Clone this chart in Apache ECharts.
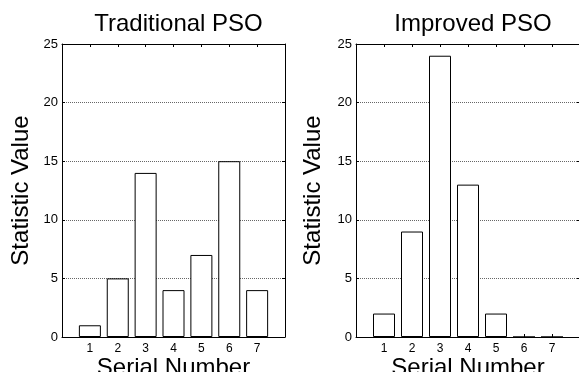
<!DOCTYPE html>
<html>
<head>
<meta charset="utf-8">
<script src="https://cdn.jsdelivr.net/npm/echarts@6/dist/echarts.min.js"></script>
<style>
  html, body { margin: 0; padding: 0; background: #fff; }
  #chart { width: 579px; height: 372px; }
</style>
</head>
<body>
<div id="chart"></div>
<script>
const serial = [1, 2, 3, 4, 5, 6, 7]
const traditional = [1, 5, 14, 4, 7, 15, 4]
const improved = [2, 9, 24, 13, 2, 0, 0]
const titles = ['Traditional PSO', 'Improved PSO']
const xName = 'Serial Number'
const yName = 'Statistic Value'

const font = 'Arial, "Liberation Sans", Helvetica, sans-serif'
const black = '#000'

const grids = [
  { left: 62, top: 44, width: 223, height: 293, outerBoundsMode: 'none', containLabel: false },
  { left: 356, top: 44, width: 224, height: 293, outerBoundsMode: 'none', containLabel: false }
]
const yGaps = [29, 31]

function xAxes (gi) {
  const base = {
    gridIndex: gi,
    type: 'value',
    min: 0,
    max: 8,
    interval: 1,
    splitLine: { show: false },
    axisLine: { show: true, onZero: false, lineStyle: { color: black, width: 1 } },
    axisTick: { show: true, inside: true, length: 3, lineStyle: { color: black } }
  }
  return [
    Object.assign({}, base, {
      position: 'bottom',
      name: xName,
      nameLocation: 'middle',
      nameGap: 19,
      nameMoveOverlap: false,
      nameTextStyle: { color: black, fontSize: 24, fontFamily: font },
      axisLabel: {
        margin: 6,
        color: black,
        fontSize: 12,
        fontFamily: font,
        formatter: v => (v >= 1 && v <= 7 ? String(v) : '')
      }
    }),
    Object.assign({}, base, {
      position: 'top',
      axisLabel: { show: false }
    })
  ]
}

function yAxes (gi) {
  const base = {
    gridIndex: gi,
    type: 'value',
    min: 0,
    max: 25,
    interval: 5,
    axisLine: { show: true, onZero: false, lineStyle: { color: black, width: 1 } },
    axisTick: { show: true, inside: true, length: 3, lineStyle: { color: black } }
  }
  return [
    Object.assign({}, base, {
      position: 'left',
      name: yName,
      nameLocation: 'middle',
      nameGap: yGaps[gi],
      nameMoveOverlap: false,
      nameTextStyle: { color: black, fontSize: 24, fontFamily: font },
      axisLabel: { margin: 4, color: black, fontSize: 13, fontFamily: font },
      splitLine: { show: true, lineStyle: { color: '#666', type: 'dotted', width: 1 } }
    }),
    Object.assign({}, base, {
      position: 'right',
      axisLabel: { show: false },
      splitLine: { show: false }
    })
  ]
}

function barSeries (gi, values) {
  return {
    type: 'bar',
    xAxisIndex: gi * 2,
    yAxisIndex: gi * 2,
    barWidth: 22,
    itemStyle: { color: '#fff', borderColor: black, borderWidth: 1 },
    data: serial.map((s, i) => [s, values[i]])
  }
}

// empty series so the top/right frame axes get drawn
function frameSeries (gi) {
  return {
    type: 'line',
    xAxisIndex: gi * 2 + 1,
    yAxisIndex: gi * 2 + 1,
    silent: true,
    data: []
  }
}

const chart = echarts.init(document.getElementById('chart'))
chart.setOption({
  animation: false,
  backgroundColor: '#fff',
  title: titles.map((t, i) => ({
    text: t,
    left: grids[i].left + grids[i].width / 2,
    textAlign: 'center',
    top: 7,
    textStyle: { color: black, fontSize: 24, fontWeight: 'normal', fontFamily: font }
  })),
  grid: grids,
  xAxis: xAxes(0).concat(xAxes(1)),
  yAxis: yAxes(0).concat(yAxes(1)),
  series: [barSeries(0, traditional), barSeries(1, improved), frameSeries(0), frameSeries(1)]
})
</script>
</body>
</html>
